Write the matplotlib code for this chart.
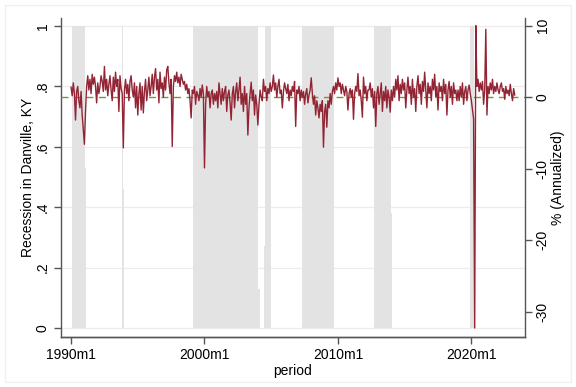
# Danville, KY recession indicator with annualized growth on a second axis

import numpy as np
import matplotlib.pyplot as plt

plt.rcParams['font.family'] = ['Liberation Sans', 'DejaVu Sans']

# monthly growth, % annualized, 1990m1 - 2023m4 (one row per year)
growth = [
    [1.4, 0.2, 2.0, 0.5, -3.2, 0.8, 1.5, -0.5, -1.5, 0.8, -2.5, -4.5],      # 1990
    [-6.6, -2.0, 1.5, 3.0, 1.0, 2.5, 0.5, 3.2, 1.8, 2.8, 1.5, -0.8],        # 1991
    [2.0, 0.5, 1.5, 3.0, 2.2, 0.8, 4.3, 1.0, 2.5, 0.2, 1.8, 3.0],           # 1992
    [1.0, -0.5, 2.8, 0.8, 3.5, 1.5, 2.5, -2.0, 3.0, 1.2, 0.5, -7.1],        # 1993
    [1.0, 2.5, 0.5, 1.8, -0.5, 2.2, 3.0, 1.0, 0.0, 2.0, -1.5, 1.5],         # 1994
    [-2.5, 0.5, 2.0, -1.8, 1.5, -2.2, 0.8, 2.5, -0.5, 1.0, 2.8, 0.2],       # 1995
    [1.5, 3.2, 0.5, 2.8, 4.0, 1.0, 2.5, -0.8, 3.5, 1.2, 2.0, 0.0],          # 1996
    [2.8, 1.0, 3.8, 4.3, 2.0, 0.5, 2.5, -6.9, 1.5, 3.0, 2.2, 3.5],          # 1997
    [2.0, 2.8, 1.5, 3.2, 2.5, 1.8, 2.2, 1.0, 1.8, 0.5, 1.2, -0.5],          # 1998
    [-2.9, 1.0, 0.5, 1.5, -1.0, 0.8, 0.3, -0.5, 1.2, 0.0, 1.7, 0.5],        # 1999
    [-9.9, -1.0, 1.5, 0.0, 0.8, -1.5, 0.5, 1.0, -1.0, 0.5, -0.5, 0.8],      # 2000
    [-1.5, 2.0, 0.5, -1.0, 1.2, -0.5, 0.8, 1.5, -2.0, 0.3, 1.0, -0.8],      # 2001
    [-3.2, 0.5, 1.5, -1.5, 0.8, 2.0, -0.5, 1.0, 2.8, -1.0, 0.5, -2.0],      # 2002
    [1.5, -1.0, 0.5, -5.3, -1.5, 0.5, 2.1, -0.5, 1.0, -2.5, 0.3, -1.0],     # 2003
    [-3.9, -1.0, 1.0, 0.0, -0.5, 2.5, 0.8, 1.5, -0.5, 1.2, 0.5, 2.0],       # 2004
    [0.8, 1.5, 3.1, 1.0, 2.0, 0.0, 1.5, 2.5, 0.5, 1.0, -1.5, 0.8],          # 2005
    [2.0, 1.2, 0.5, 1.8, -0.5, 1.0, 0.2, 1.5, 0.8, 2.2, -4.1, 1.0],         # 2006
    [0.5, 1.5, -0.5, 1.0, 0.0, 0.8, -1.0, 0.5, 1.2, -0.8, 0.3, 1.0],        # 2007
    [2.7, 0.5, -1.0, 0.2, -2.5, -0.5, -1.5, -2.9, -1.0, -2.0, -0.5, -7.0],  # 2008
    [-2.0, -1.0, -4.2, -0.5, -1.5, 0.5, -1.0, 0.8, 1.5, 0.5, 2.0, 1.0],     # 2009
    [2.7, 1.5, 2.0, 0.5, 1.8, 1.0, 0.2, 1.5, 0.8, -1.8, 0.5, 1.2],          # 2010
    [0.0, 1.0, -3.1, 0.5, 1.5, 0.8, 3.3, 0.2, 1.0, -0.5, -2.8, 2.8],        # 2011
    [0.5, 1.5, -0.5, 1.0, 1.0, 2.0, 0.0, 1.2, -1.5, 0.8, -4.1, 0.5],        # 2012
    [1.5, -1.0, 0.5, 2.0, -2.0, 0.8, -0.5, 1.5, -1.5, 1.0, 0.0, -2.1],      # 2013
    [1.0, -0.5, 1.5, 0.0, 2.5, 1.0, 3.0, -0.5, 1.8, 0.5, 2.5, 1.0],         # 2014
    [2.0, -1.5, 1.0, 2.8, 0.5, 1.5, -1.0, 2.5, 0.0, 1.2, -2.0, 1.5],        # 2015
    [3.0, 0.5, 1.8, -1.0, 2.2, 0.8, 3.5, 1.0, -1.5, 2.0, 0.5, 1.5],         # 2016
    [-0.5, 2.5, 1.0, 3.2, 0.0, 1.5, -1.8, 2.0, 0.8, 1.5, -0.5, 2.5],        # 2017
    [0.5, 1.8, -2.5, 1.0, 2.2, 0.0, 1.5, -1.0, 2.0, 0.5, 1.0, -0.5],        # 2018
    [1.0, -0.5, 1.5, 0.0, 2.0, -1.0, 0.8, 1.5, -0.5, 1.0, 1.7, 0.5],        # 2019
    [-0.5, -1.8, -3.0, -32.3, 10.0, 1.5, 2.5, 0.8, 2.0, 1.0, 2.2, -1.0],    # 2020
    [1.0, 9.5, -2.5, 1.5, 0.5, 2.0, 1.0, 2.5, 0.5, 1.5, 0.8, 2.0],          # 2021
    [1.0, 0.5, 1.5, 2.0, 0.8, 1.2, -0.3, 1.5, 0.5, 1.0, 0.2, 1.8],          # 2022
    [0.5, -0.5, 1.2, 0.3],                                                  # 2023
]
first_year = 1990

# recession spells (full months) and partial-month values, as (year, month)
rec_start = [(1990, 2), (1993, 11), (1999, 3), (2004, 8), (2007, 5), (2012, 10), (2019, 12)]
rec_end = [(1991, 1), (1993, 11), (2004, 1), (2004, 12), (2009, 9), (2013, 12), (2020, 3)]
rec_part = [(1991, 2), (1993, 12), (2004, 2), (2004, 7), (2014, 1)]
rec_part_val = [0.53, 0.46, 0.13, 0.27, 0.38]

growth_flat = np.concatenate([np.array(g) for g in growth])
n = len(growth_flat)
dates = first_year + np.arange(n) / 12.0


def idx(ym):
    return (ym[0] - first_year) * 12 + ym[1] - 1


recession = np.zeros(n)
for s, e in zip(rec_start, rec_end):
    recession[idx(s):idx(e) + 1] = 1.0
for p, v in zip(rec_part, rec_part_val):
    recession[idx(p)] = v

fig = plt.figure(figsize=(5.76, 3.87), dpi=100)
ax = fig.add_axes([0.106, 0.129, 0.805, 0.824])
ax2 = ax.twinx()

# faint outer frame of the graph region
fig.patches.append(plt.Rectangle((0.009, 0.012), 0.982, 0.976, transform=fig.transFigure,
                                 fill=False, edgecolor='#eef1f1', linewidth=1.0))

ax.bar(dates, recession, width=1 / 12.0, color='#e3e3e3', linewidth=0, zorder=2)
ax.set_ylim(-0.03, 1.026)
ax.set_xlim(1989.25, 2024.0)
ax.set_yticks([0, 0.2, 0.4, 0.6, 0.8, 1.0])
ax.set_yticklabels(['0', '.2', '.4', '.6', '.8', '1'], rotation=90, va='center')
ax.yaxis.grid(True, color='#ececec', linewidth=0.9, zorder=0)
ax.set_axisbelow(True)
ax.set_xticks([1990, 2000, 2010, 2020])
ax.set_xticklabels(['1990m1', '2000m1', '2010m1', '2020m1'])
ax.set_xlabel('period', fontsize=10, labelpad=1)
ax.set_ylabel('Recession in Danville, KY', fontsize=10, labelpad=1)

ax2.axhline(0, color='#7d8f45', linewidth=1.0, linestyle=(0, (5, 4)), zorder=2)
ax2.plot(dates, growth_flat, color='#922434', linewidth=1.0, zorder=3)
ax2.set_ylim(-33.57, 11.05)
ax2.set_yticks([10, 0, -10, -20, -30])
ax2.set_yticklabels(['10', '0', '-10', '-20', '-30'], rotation=90, va='center')
ax2.set_ylabel('% (Annualized)', fontsize=10, labelpad=1)

for a in (ax, ax2):
    a.spines['top'].set_visible(False)
    for s in ('left', 'right', 'bottom'):
        a.spines[s].set_color('#555555')
        a.spines[s].set_linewidth(1.0)
    a.tick_params(direction='out', length=5, width=1.0, color='#555555',
                  labelsize=10, labelcolor='black', pad=3)
ax2.spines['left'].set_visible(False)
ax.spines['right'].set_visible(False)

fig.savefig('out.png', dpi=100, facecolor='white')
